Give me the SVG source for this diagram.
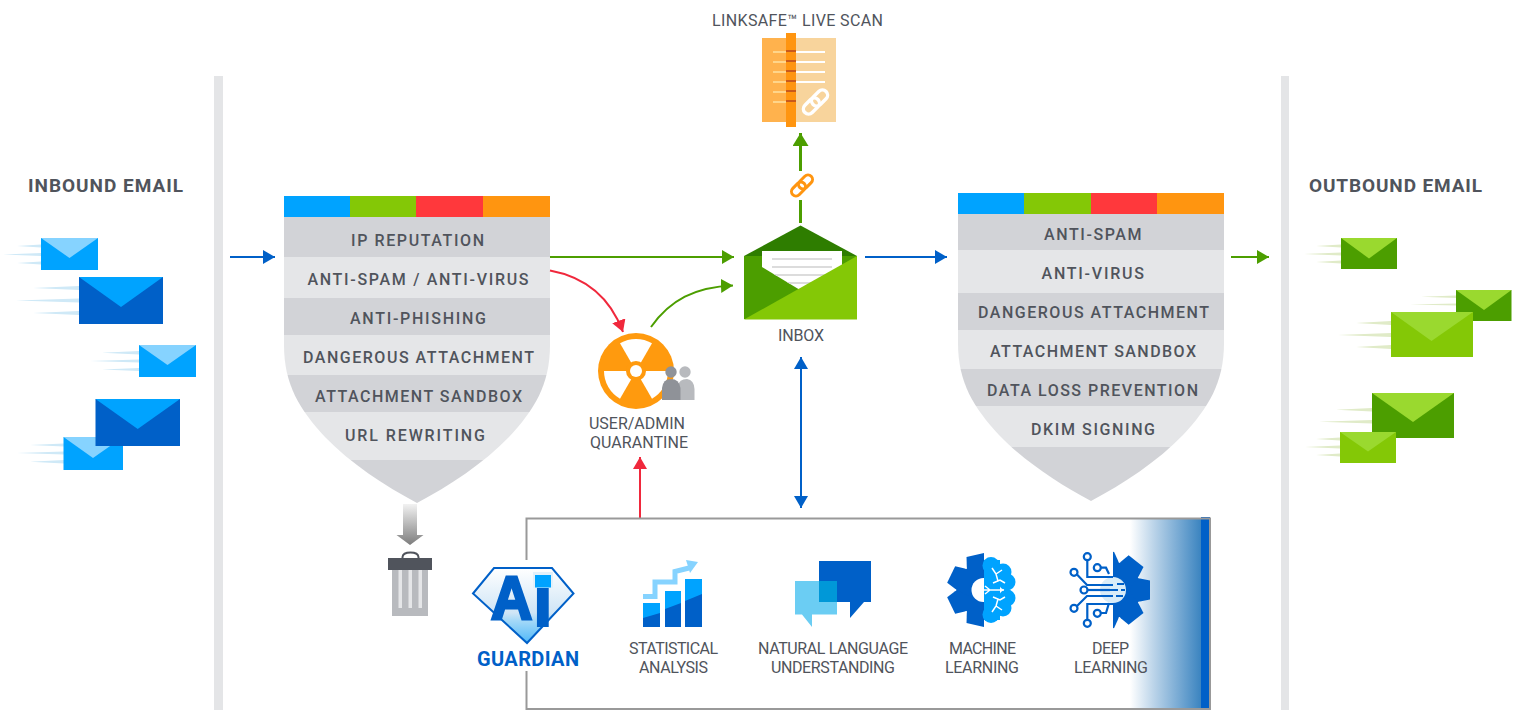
<svg xmlns="http://www.w3.org/2000/svg" xmlns:xlink="http://www.w3.org/1999/xlink" width="1520" height="710" viewBox="0 0 1520 710">
<style>
text{font-family:"Roboto","Liberation Sans",sans-serif;fill:#50545c;font-weight:400}
.b{font-size:16px;font-weight:500}
.h{font-size:19px;font-weight:700}
.l{font-size:16px}
.g{fill:#0060c8;font-size:20px;font-weight:700}
.dk{fill:#d2d3d7}.lt{fill:#e5e6e8}
.bar{fill:#e4e5e7}
.cy{fill:#00a3ff}.bl{fill:#0060c8}.fl{fill:#86d3ff}.gr{fill:#4c9e00}.ln{fill:#84c806}.fg{fill:#9ad92f}
.sb{fill:#cfe9f7}.sg{fill:#e0ebc8}
.conn{fill:none}
</style>
<defs>
<marker id="mb" markerUnits="userSpaceOnUse" markerWidth="13" markerHeight="15" refX="12" refY="7" orient="auto-start-reverse"><path d="M0 0L12 7L0 14Z" fill="#0060c8"/></marker>
<marker id="mg" markerUnits="userSpaceOnUse" markerWidth="13" markerHeight="15" refX="12" refY="7" orient="auto"><path d="M0 0L12 7L0 14Z" fill="#4c9e00"/></marker>
<marker id="mr" markerUnits="userSpaceOnUse" markerWidth="13" markerHeight="15" refX="12" refY="7" orient="auto"><path d="M0 0L12 7L0 14Z" fill="#f0283c"/></marker>
<marker id="mu" markerUnits="userSpaceOnUse" markerWidth="14" markerHeight="17" refX="13" refY="8" orient="auto"><path d="M0 0L13 8L0 16Z" fill="#4c9e00"/></marker>
<clipPath id="sh1"><path d="M284 217H550V345C550 385 534 410 509 437C484 463 449 486 417 503C385 486 350 463 325 437C300 410 284 385 284 345Z"/></clipPath>
<clipPath id="sh2"><path d="M958 214H1224V343C1224 383 1208 408 1183 435C1158 461 1123 484 1091 501C1059 484 1024 461 999 435C974 408 958 383 958 343Z"/></clipPath>
<clipPath id="paper"><path d="M762 251H842V272L800 290L762 267Z"/></clipPath>
<linearGradient id="fade" x1="0" x2="1" y1="0" y2="0"><stop offset="0" stop-color="#fff"/><stop offset=".35" stop-color="#b8d2e8"/><stop offset="1" stop-color="#3b84c0"/></linearGradient>
<linearGradient id="down" x1="0" x2="0" y1="0" y2="1"><stop offset="0" stop-color="#f2f2f2"/><stop offset="1" stop-color="#7d7d7d"/></linearGradient>
<linearGradient id="gem" x1="0" x2="0" y1="0" y2="1"><stop offset="0" stop-color="#fff"/><stop offset=".6" stop-color="#cfe5f6"/><stop offset=".7" stop-color="#a5d9f8"/><stop offset="1" stop-color="#4fb8f8"/></linearGradient>
<clipPath id="gl"><rect x="940" y="545" width="44" height="90"/></clipPath>
<clipPath id="gr"><rect x="1113" y="545" width="45" height="90"/></clipPath>
<g id="chain" fill="none" stroke-width="3"><g transform="rotate(-45)"><rect x="-13" y="-4.500" width="16" height="9" rx="4.500"/><rect x="-3" y="-4.500" width="16" height="9" rx="4.500"/></g></g>
<path id="tooth" d="M0 -13L0 13L27 11.500L37 9.500L37 -9.500L27 -11.500Z"/>
<g id="gear"><circle r="28"/><use xlink:href="#tooth" transform="rotate(0)"/><use xlink:href="#tooth" transform="rotate(51.430)"/><use xlink:href="#tooth" transform="rotate(102.860)"/><use xlink:href="#tooth" transform="rotate(154.290)"/><use xlink:href="#tooth" transform="rotate(205.710)"/><use xlink:href="#tooth" transform="rotate(257.140)"/><use xlink:href="#tooth" transform="rotate(308.570)"/></g>
</defs>

<rect id="bar-left" class="bar" x="214" y="76" width="9" height="634"/>
<rect id="bar-right" class="bar" x="1281" y="76" width="8" height="634"/>

<g id="inbound">
<text class="h" x="28" y="192" textLength="155">INBOUND EMAIL</text>
<g id="in1"><path class="sb" d="M41 244.500L17 246L41 247.500ZM41 253L3 254.500L41 256ZM41 261.500L17 263L41 264.500Z"/><rect class="cy" x="41" y="238" width="57" height="32"/><path class="fl" d="M41 238H98L69.500 258Z"/></g>
<g id="in2"><path class="sb" d="M79 286L33 288L79 290ZM79 298.500L16 300.500L79 302.500ZM79 311L33 313L79 315Z"/><rect class="bl" x="79" y="277" width="84" height="47"/><path class="cy" d="M79 277H163L121 307Z"/></g>
<g id="in3"><path class="sb" d="M139 351L102 352.700L139 354.500ZM139 359.500L90 361L139 362.500ZM139 368L102 369.500L139 371Z"/><rect class="cy" x="139" y="345" width="57" height="32"/><path class="fl" d="M139 345H196L167.500 365Z"/></g>
<g id="in5"><path class="sb" d="M64 443.500L30 445L64 446.500ZM64 451.500L17 453L64 454.500ZM64 460L30 461.700L64 463.500Z"/><rect class="cy" x="63.500" y="437" width="59.500" height="33"/><path class="fl" d="M63.500 437H123L93 458Z"/></g>
<g id="in4"><rect class="bl" x="95.500" y="399" width="84.500" height="47"/><path class="cy" d="M95.500 399H180L137.700 429Z"/></g>
</g>

<g id="filter-inbound">
<rect class="cy" x="284" y="196" width="66" height="21"/><rect class="ln" x="350" y="196" width="66" height="21"/><rect fill="#ff383c" x="416" y="196" width="67" height="21"/><rect fill="#ff9510" x="483" y="196" width="67" height="21"/>
<g clip-path="url(#sh1)">
<rect class="dk" x="284" y="217" width="266" height="40"/><rect class="lt" x="284" y="257" width="266" height="41"/><rect class="dk" x="284" y="298" width="266" height="37"/><rect class="lt" x="284" y="335" width="266" height="40"/><rect class="dk" x="284" y="375" width="266" height="37"/><rect class="lt" x="284" y="412" width="266" height="48"/><rect class="dk" x="284" y="460" width="266" height="44"/>
</g>
<text class="b" x="351" y="246" textLength="133">IP REPUTATION</text>
<text class="b" x="307.500" y="284.500" textLength="221">ANTI-SPAM / ANTI-VIRUS</text>
<text class="b" x="350" y="323.500" textLength="136">ANTI-PHISHING</text>
<text class="b" x="303" y="362.500" textLength="231">DANGEROUS ATTACHMENT</text>
<text class="b" x="315" y="401.500" textLength="207">ATTACHMENT SANDBOX</text>
<text class="b" x="345" y="440.500" textLength="140">URL REWRITING</text>
</g>

<g id="filter-outbound">
<rect class="cy" x="958" y="193" width="66" height="21"/><rect class="ln" x="1024" y="193" width="67" height="21"/><rect fill="#ff383c" x="1091" y="193" width="66" height="21"/><rect fill="#ff9510" x="1157" y="193" width="67" height="21"/>
<g clip-path="url(#sh2)">
<rect class="dk" x="958" y="214" width="266" height="36"/><rect class="lt" x="958" y="250" width="266" height="43"/><rect class="dk" x="958" y="293" width="266" height="37"/><rect class="lt" x="958" y="330" width="266" height="39"/><rect class="dk" x="958" y="369" width="266" height="37"/><rect class="lt" x="958" y="406" width="266" height="41"/><rect class="dk" x="958" y="447" width="266" height="55"/>
</g>
<text class="b" x="1044" y="240" textLength="97.500">ANTI-SPAM</text>
<text class="b" x="1041.500" y="279" textLength="102.500">ANTI-VIRUS</text>
<text class="b" x="978" y="318" textLength="231">DANGEROUS ATTACHMENT</text>
<text class="b" x="990" y="357" textLength="206">ATTACHMENT SANDBOX</text>
<text class="b" x="987" y="396" textLength="211">DATA LOSS PREVENTION</text>
<text class="b" x="1031" y="435" textLength="124">DKIM SIGNING</text>
</g>

<g id="linksafe">
<text class="l" x="712" y="26" textLength="171">LINKSAFE™ LIVE SCAN</text>
<rect fill="#ffb24d" x="762" y="38" width="24" height="84"/>
<rect fill="#f8d49c" x="796" y="38" width="40" height="84"/>
<rect fill="#ff9510" x="786" y="33" width="10" height="94"/>
<g fill="#ffd58a"><rect x="773" y="51" width="13" height="2"/><rect x="773" y="61" width="13" height="2"/><rect x="773" y="71" width="13" height="2"/><rect x="773" y="81" width="13" height="2"/><rect x="773" y="91" width="13" height="2"/><rect x="773" y="101" width="13" height="2"/></g>
<g fill="#fff"><rect x="796" y="51" width="29" height="2"/><rect x="796" y="61" width="29" height="2"/><rect x="796" y="71" width="29" height="2"/><rect x="796" y="81" width="29" height="2"/></g>
<g fill="#c9591a"><rect x="786" y="50" width="10" height="2"/><rect x="786" y="60" width="10" height="2"/><rect x="786" y="70" width="10" height="2"/><rect x="786" y="80" width="10" height="2"/><rect x="786" y="90" width="10" height="2"/><rect x="786" y="100" width="10" height="2"/></g>
<use xlink:href="#chain" transform="translate(815.500,102) scale(1.150)" stroke="#fff"/>
</g>

<g id="inbox">
<path fill="#2e7d00" d="M744 256L800.500 225.500L857 256Z"/>
<rect class="gr" x="744" y="256" width="113" height="63"/>
<path fill="#fff" d="M762 251H842V272L800 290L762 267Z"/>
<g fill="#dcdcdc" clip-path="url(#paper)"><rect x="772" y="258" width="60" height="2"/><rect x="772" y="266" width="60" height="2"/><rect x="772" y="274" width="60" height="2"/><rect x="772" y="282" width="60" height="2"/></g>
<path class="ln" d="M744 319.500L857 256V319.500Z"/>
<text class="l" x="778" y="341" textLength="46">INBOX</text>
</g>

<g id="quarantine">
<circle cx="636" cy="371" r="38" fill="#ff9a0e"/>
<path fill="#fff" d="M636 371L620 343.300A32 32 0 0 1 652 343.300Z"/>
<path fill="#fff" d="M636 371L604 371A32 32 0 0 0 620 398.700Z"/>
<path fill="#fff" d="M636 371L668 371A32 32 0 0 1 652 398.700Z"/>
<circle cx="636" cy="371" r="10" fill="#ff9a0e"/>
<circle cx="636" cy="371" r="6" fill="#fff"/>
<circle cx="685" cy="372" r="5.700" fill="#b8babe"/><path fill="#b8babe" d="M678 400V386Q679 379 687 379Q694 380 694.500 389V400Z"/>
<circle cx="671" cy="372" r="5.700" fill="#8f9298"/><path fill="#8f9298" d="M662 400V388Q663 379 671 379Q679 379 680.500 388V400Z"/>
<text class="l" x="589" y="429" textLength="96">USER/ADMIN</text>
<text class="l" x="590" y="448" textLength="98">QUARANTINE</text>
</g>

<g id="trash">
<path fill="url(#down)" d="M403 504H417V535H423.500L410 545L396.500 535H403Z"/>
<path fill="none" stroke="#50545c" stroke-width="2" d="M402.500 558V557Q403 552.500 410.500 552.500Q418 552.500 418.500 557V558"/>
<rect fill="#b8babe" x="392" y="570" width="36" height="46"/>
<g fill="#e5e6e8"><rect x="398.500" y="570" width="3.500" height="38"/><rect x="408.500" y="570" width="3.500" height="38"/><rect x="418.500" y="570" width="3.500" height="38"/></g>
<rect fill="#50545c" x="388" y="558" width="44" height="12"/>
</g>

<g id="connectors" class="conn" stroke-linecap="butt">
<path d="M230 257H275" stroke="#0060c8" stroke-width="2" marker-end="url(#mb)"/>
<path d="M550 257H734" stroke="#4c9e00" stroke-width="2" marker-end="url(#mg)"/>
<path d="M550 270.500C585 277 610 297 623 332" stroke="#f0283c" stroke-width="2" marker-end="url(#mr)"/>
<path d="M651 327C670 300 695 287 733 285.500" stroke="#4c9e00" stroke-width="2" marker-end="url(#mg)"/>
<path d="M865 257H947" stroke="#0060c8" stroke-width="2" marker-end="url(#mb)"/>
<path d="M1231 257H1269" stroke="#4c9e00" stroke-width="2" marker-end="url(#mg)"/>
<path d="M800.500 223V200" stroke="#4c9e00" stroke-width="3"/>
<path d="M800.500 171V133" stroke="#4c9e00" stroke-width="3" marker-end="url(#mu)"/>
<path d="M640 518V457" stroke="#f0283c" stroke-width="2" marker-end="url(#mr)"/>
<path d="M801 357V508" stroke="#0060c8" stroke-width="2" marker-start="url(#mb)" marker-end="url(#mb)"/>
<use xlink:href="#chain" transform="translate(802,185.500)" stroke="#ff9510"/>
</g>

<g id="outbound">
<text class="h" x="1309" y="192" textLength="173">OUTBOUND EMAIL</text>
<g id="out1"><path class="sg" d="M1341 244.500L1316 246L1341 247.500ZM1341 252.500L1304 254L1341 255.500ZM1341 260.500L1316 262L1341 263.500Z"/><rect class="gr" x="1341" y="238" width="56" height="31"/><path class="fg" d="M1341 238H1397L1369 258.500Z"/></g>
<g id="out2"><path class="sg" d="M1456 295.500L1421 296.700L1456 298ZM1456 303.500L1410 304.500L1456 305.500Z"/><rect class="gr" x="1456" y="290" width="55.500" height="31"/><path class="fg" d="M1456 290H1511.500L1484 310Z"/></g>
<g id="out3"><path class="sg" d="M1391 321L1356 323L1391 325ZM1391 333L1338 335L1391 337ZM1391 345L1356 347L1391 349Z"/><rect class="ln" x="1391" y="312" width="82" height="45"/><path class="fg" d="M1391 312H1473L1431.500 341Z"/></g>
<g id="out4"><path class="sg" d="M1372 408L1336 409.700L1372 411.500ZM1372 420L1319 421.700L1372 423.500Z"/><rect class="gr" x="1372" y="393" width="82" height="45"/><path class="fg" d="M1372 393H1454L1413 422Z"/></g>
<g id="out5"><path class="sg" d="M1340 437.500L1316 439L1340 440.500ZM1340 445.500L1305 447L1340 448.500ZM1340 453.500L1316 455L1340 456.500Z"/><rect class="ln" x="1340" y="432" width="56" height="31"/><path class="fg" d="M1340 432H1396L1368 451.500Z"/></g>
</g>

<g id="ai-panel">
<rect fill="url(#fade)" x="1130" y="519" width="71" height="189"/>
<rect class="bl" x="1201" y="517" width="9" height="191"/>
<path fill="none" stroke="#999" stroke-width="2" d="M526.500 560V518.500H1210V709H526.500V671"/>
</g>

<g id="guardian">
<path fill="url(#gem)" stroke="#0060c8" stroke-width="2" d="M494 568H552L573.500 593.500L527 643L473 593.500Z"/>
<text x="0" y="0" transform="translate(491,619) scale(.92,1)" style="font-family:'Liberation Sans',sans-serif;font-size:62px;font-weight:700;fill:#0060c8;stroke:#0060c8;stroke-width:3">A</text>
<text x="0" y="0" transform="translate(533,626)" style="font-family:'Liberation Sans',sans-serif;font-size:71px;font-weight:700;fill:#0060c8;stroke:#0060c8;stroke-width:2">i</text>
<rect fill="#e2f0fa" x="533" y="572" width="20" height="16"/>
<rect class="cy" x="535" y="575" width="16" height="12.500"/>
<text class="g" x="477" y="665.500" textLength="102">GUARDIAN</text>
</g>

<g id="statistical">
<rect class="cy" x="643" y="603" width="17" height="24"/><rect class="cy" x="665" y="591" width="16" height="36"/><rect class="cy" x="685" y="579" width="17" height="48"/>
<path class="bl" d="M643 618L660 613V627H643ZM665 609L681 603V627H665ZM685 601L702 594V627H685Z"/>
<path fill="none" stroke="#86d3ff" stroke-width="5" d="M643 596.500H655V582H675V571.500L689 568"/>
<path fill="#86d3ff" d="M686 560L698 562L690 573Z"/>
<text class="l" x="629" y="654" textLength="89">STATISTICAL</text>
<text class="l" x="639" y="673" textLength="69">ANALYSIS</text>
</g>

<g id="nlu">
<path class="bl" d="M819 561H871V602H864L850 618V602H819Z"/>
<path fill="#6bcdf3" d="M795 581H837V614.500H812V627L802 614.500H795Z"/>
<rect fill="#0098d8" x="819" y="581" width="18" height="21"/>
<text class="l" x="758" y="654" textLength="150">NATURAL LANGUAGE</text>
<text class="l" x="771" y="673" textLength="124">UNDERSTANDING</text>
</g>

<g id="machine">
<g clip-path="url(#gl)"><use xlink:href="#gear" transform="translate(983.500,590) scale(.97)" fill="#0060c8"/><circle cx="983.500" cy="590" r="12" fill="#fff"/></g>
<g class="cy"><circle cx="991" cy="565.500" r="8.500"/><circle cx="1003" cy="572" r="8.500"/><circle cx="1007" cy="582" r="8.500"/><circle cx="991" cy="614.500" r="8.500"/><circle cx="1003" cy="608" r="8.500"/><circle cx="1007" cy="598" r="8.500"/><rect x="984" y="560" width="16" height="60"/></g>
<path fill="none" stroke="#fff" stroke-width="1.500" d="M984 590H1004M990 590L985 586M990 590L985 594M992 568L996 574L1002 570M996 574L998 581M993 583L1000 580L1005 583M992 612L996 606L1002 610M996 606L998 599M993 597L1000 600L1005 597"/>
<text class="l" x="949" y="654" textLength="67">MACHINE</text>
<text class="l" x="945" y="673" textLength="74">LEARNING</text>
</g>

<g id="deep">
<g clip-path="url(#gr)"><use xlink:href="#gear" fill="#0060c8" transform="translate(1113,590)"/></g>
<path fill="#d8ecf8" d="M1113 577A13 13 0 0 1 1113 603A13 13 0 0 1 1113 577Z"/>
<g fill="none" stroke="#0060c8" stroke-width="2.200">
<path d="M1087.300 560V577H1113"/>
<path d="M1101 567.700H1106L1109 574"/>
<path d="M1077 574.500L1087 585H1113"/>
<path d="M1087.500 590H1110"/>
<path d="M1077 606L1087 596H1113"/>
<path d="M1101 613H1106L1109 603"/>
<path d="M1087.300 620V604H1113"/>
<path d="M1117 584H1124M1102 590H1118M1121 590H1125M1100 596H1113M1116 596H1123"/>
<circle cx="1087.300" cy="556.700" r="3.500" fill="#fff"/><circle cx="1097.300" cy="567.700" r="3.500" fill="#fff"/><circle cx="1074" cy="572.300" r="3.500" fill="#fff"/><circle cx="1084" cy="590" r="3.500" fill="#fff"/><circle cx="1074" cy="608.300" r="3.500" fill="#fff"/><circle cx="1097.300" cy="613.300" r="3.500" fill="#fff"/><circle cx="1087.300" cy="623.300" r="3.500" fill="#fff"/>
</g>
<text class="l" x="1092" y="654" textLength="37">DEEP</text>
<text class="l" x="1074" y="673" textLength="74">LEARNING</text>
</g>
</svg>
